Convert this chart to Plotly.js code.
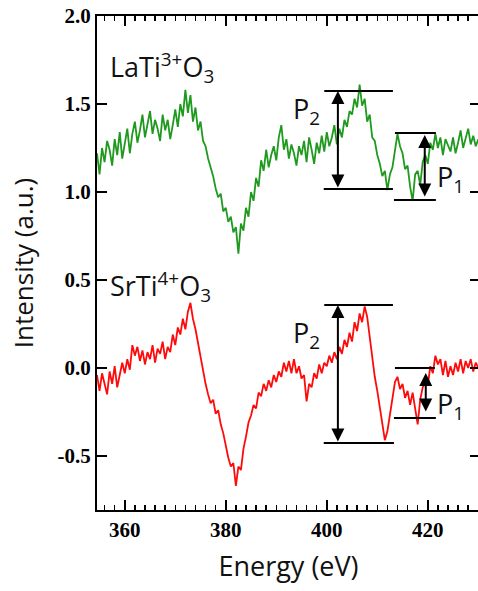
<!DOCTYPE html>
<html>
<head>
<meta charset="utf-8">
<script src="https://cdn.plot.ly/plotly-3.0.1.min.js"></script>
<style>
html,body{margin:0;padding:0;background:#fff;overflow:hidden;}
#chart{width:482px;height:591px;}
</style>
</head>
<body>
<div id="chart"></div>
<script>
// Photon energy (eV)
const energy = [
354.5,355.0,355.5,356.0,356.5,357.0,357.5,358.0,358.5,359.0,359.5,
360.0,360.5,361.0,361.5,362.0,362.5,363.0,363.5,364.0,364.5,
365.0,365.5,366.0,366.5,367.0,367.5,368.0,368.5,369.0,369.5,
370.0,370.5,371.0,371.5,372.0,372.5,373.0,373.5,374.0,374.5,
375.0,375.5,376.0,376.5,377.0,377.5,378.0,378.5,379.0,379.5,
380.0,380.5,381.0,381.5,382.0,382.5,383.0,383.5,384.0,384.5,
385.0,385.5,386.0,386.5,387.0,387.5,388.0,388.5,389.0,389.5,
390.0,390.5,391.0,391.5,392.0,392.5,393.0,393.5,394.0,394.5,
395.0,395.5,396.0,396.5,397.0,397.5,398.0,398.5,399.0,399.5,
400.0,400.5,401.0,401.5,402.0,402.5,403.0,403.5,404.0,404.5,
405.0,405.5,406.0,406.5,407.0,407.5,408.0,408.5,409.0,409.5,
410.0,410.5,411.0,411.5,412.0,412.5,413.0,413.5,414.0,414.5,
415.0,415.5,416.0,416.5,417.0,417.5,418.0,418.5,419.0,419.5,
420.0,420.5,421.0,421.5,422.0,422.5,423.0,423.5,424.0,424.5,
425.0,425.5,426.0,426.5,427.0,427.5,428.0,428.5,429.0,429.5,
430.0];

// LaTi3+O3 spectrum (green)
const laTiO3 = [
1.22,1.10,1.25,1.17,1.29,1.24,1.15,1.30,1.21,1.34,1.19,
1.27,1.36,1.22,1.33,1.40,1.28,1.35,1.44,1.31,1.39,
1.46,1.33,1.41,1.36,1.29,1.44,1.35,1.41,1.30,1.38,
1.47,1.37,1.50,1.43,1.58,1.45,1.55,1.40,1.48,1.35,
1.40,1.29,1.26,1.19,1.14,1.09,1.02,0.97,0.99,0.89,
0.91,0.83,0.86,0.77,0.80,0.65,0.82,0.78,0.91,0.86,
1.00,0.95,1.08,1.03,1.18,1.12,1.24,1.14,1.21,1.26,
1.18,1.31,1.38,1.24,1.30,1.19,1.27,1.22,1.15,1.26,
1.21,1.29,1.17,1.31,1.24,1.16,1.28,1.22,1.32,1.23,
1.34,1.26,1.31,1.38,1.27,1.36,1.31,1.41,1.37,1.46,
1.44,1.53,1.48,1.61,1.49,1.53,1.40,1.44,1.31,1.29,
1.21,1.16,1.09,1.12,1.01,1.10,1.14,1.23,1.33,1.26,
1.22,1.13,1.15,1.03,0.95,1.10,1.12,1.04,1.17,1.21,
1.16,1.28,1.24,1.33,1.25,1.31,1.21,1.30,1.27,1.23,
1.31,1.22,1.28,1.35,1.25,1.31,1.36,1.27,1.32,1.26,
1.30];

// SrTi4+O3 spectrum (red)
const srTiO3 = [
-0.04,-0.13,-0.03,-0.10,-0.15,-0.02,-0.09,0.01,-0.11,-0.04,0.03,
-0.03,0.05,-0.01,0.13,0.07,0.12,0.04,0.10,0.02,0.09,
0.05,0.13,0.03,0.11,0.08,0.15,0.05,0.12,0.09,0.19,
0.13,0.23,0.19,0.28,0.22,0.32,0.37,0.28,0.22,0.14,
0.07,-0.03,-0.09,-0.15,-0.20,-0.18,-0.26,-0.24,-0.32,-0.37,
-0.45,-0.51,-0.56,-0.54,-0.67,-0.56,-0.58,-0.46,-0.39,-0.31,
-0.27,-0.21,-0.23,-0.14,-0.16,-0.09,-0.13,-0.07,-0.11,-0.04,
-0.08,-0.02,-0.05,0.03,-0.02,0.04,-0.03,0.05,-0.03,0.01,
-0.06,-0.04,-0.19,-0.09,-0.11,-0.03,-0.06,0.02,-0.03,0.03,
0.01,0.07,0.03,0.09,0.05,0.12,0.08,0.16,0.12,0.20,
0.15,0.26,0.21,0.31,0.26,0.35,0.29,0.17,0.06,-0.05,
-0.13,-0.22,-0.30,-0.41,-0.36,-0.26,-0.18,-0.08,-0.05,-0.12,
-0.09,-0.17,-0.13,-0.21,-0.14,-0.23,-0.32,-0.18,-0.11,-0.08,
-0.10,0.01,-0.03,0.07,0.02,0.05,-0.04,0.04,-0.05,0.01,
-0.04,0.03,-0.02,0.05,-0.03,0.04,0.00,0.05,-0.02,0.03,
0.00];

// Axis ticks
const xTickStart = 360, xTickStep = 20, xMinorStep = 2;
const yTickVals = [-0.5, 0.0, 0.5, 1.0, 1.5, 2.0];
const yTickText = ['-0.5', '0.0', '0.5', '1.0', '1.5', '2.0'];

// Peak-height markers: [top level, bottom level]
const laP2 = [1.574, 1.017];
const laP1 = [1.335, 0.955];
const srP2 = [0.358, -0.426];
const srP1 = [0.0, -0.284];

const shapes = [];
function hline(y, x0, x1) {
  shapes.push({type: 'line', xref: 'x', yref: 'y', x0: x0, x1: x1, y0: y, y1: y,
    line: {color: '#000', width: 2}});
}
hline(laP2[0], 399.5, 413.1); hline(laP2[1], 399.4, 413.1);
hline(laP1[0], 413.5, 421.6); hline(laP1[1], 413.3, 421.6);
hline(srP2[0], 399.5, 413.1); hline(srP2[1], 399.4, 413.3);
hline(srP1[0], 413.5, 421.4); hline(srP1[1], 413.3, 421.6);

const annotations = [];
function darrow(x, yTop, yBot) {
  annotations.push({x: x, y: yTop, ax: x, ay: yBot, xref: 'x', yref: 'y', axref: 'x', ayref: 'y',
    text: '', showarrow: true, arrowhead: 2, startarrowhead: 2, arrowside: 'end+start',
    arrowsize: 1.3, startarrowsize: 1.3, arrowwidth: 2, arrowcolor: '#000', standoff: 0, startstandoff: 0});
}
darrow(402.2, laP2[0], laP2[1]);
darrow(419.4, laP1[0] - 0.011, laP1[1] + 0.011);
darrow(402.2, srP2[0], srP2[1]);
darrow(419.6, srP1[0] - 0.028, srP1[1] + 0.028);

const labelFont = {family: 'Open Sans, Noto Sans, sans-serif', size: 27, color: '#111'};
function label(text, x, y, xanchor) {
  annotations.push({x: x, y: y, xref: 'x', yref: 'y', text: text, showarrow: false,
    xanchor: xanchor || 'center', yanchor: 'middle', font: labelFont});
}
label('P<sub>2</sub>', 396.0, 1.462);
label('P<sub>1</sub>', 424.4, 1.075);
label('P<sub>2</sub>', 396.0, 0.19);
label('P<sub>1</sub>', 424.4, -0.215);

const nameFont = {family: 'Open Sans, Noto Sans, sans-serif', size: 27, color: '#111'};
annotations.push({x: 356.6, y: 1.705, xref: 'x', yref: 'y', text: 'LaTi<sup>3+</sup>O<sub>3</sub>',
  showarrow: false, xanchor: 'left', yanchor: 'middle', font: nameFont});
annotations.push({x: 356.6, y: 0.465, xref: 'x', yref: 'y', text: 'SrTi<sup>4+</sup>O<sub>3</sub>',
  showarrow: false, xanchor: 'left', yanchor: 'middle', font: nameFont});

const traces = [
  {x: energy, y: laTiO3, type: 'scatter', mode: 'lines', line: {color: '#1f9a1f', width: 1.8}},
  {x: energy, y: srTiO3, type: 'scatter', mode: 'lines', line: {color: '#ff0a0a', width: 1.8}}
];

const tickFont = {family: 'Liberation Serif', size: 21, color: '#000', weight: 'bold'};
const titleFont = {family: 'Open Sans, Noto Sans, sans-serif', size: 27, color: '#111'};

const layout = {
  width: 482, height: 591,
  margin: {l: 97, r: 2, t: 16, b: 81},
  paper_bgcolor: '#fff', plot_bgcolor: '#fff',
  showlegend: false,
  xaxis: {
    range: [354.5, 430.34], showgrid: false, zeroline: false,
    showline: true, linecolor: '#000', linewidth: 2, mirror: 'ticks',
    ticks: 'inside', ticklen: 10, tickwidth: 2, tickcolor: '#000',
    tickmode: 'linear', tick0: xTickStart, dtick: xTickStep, tickfont: tickFont,
    tickprefix: '<b>', ticksuffix: '</b>',
    minor: {dtick: xMinorStep, tick0: xTickStart, ticks: 'inside', ticklen: 5, tickwidth: 1.5, tickcolor: '#000', showgrid: false},
    title: {text: 'Energy (eV)', font: titleFont, standoff: 16}
  },
  yaxis: {
    range: [-0.807, 2.0], showgrid: false, zeroline: false,
    showline: true, linecolor: '#000', linewidth: 2, mirror: 'ticks',
    ticks: 'inside', ticklen: 10, tickwidth: 2, tickcolor: '#000',
    tickmode: 'array', tickvals: yTickVals, ticktext: yTickText, tickfont: tickFont,
    tickprefix: '<b>', ticksuffix: '</b>',
    title: {text: 'Intensity (a.u.)', font: {family: 'Open Sans, Noto Sans, sans-serif', size: 26, color: '#111'}, standoff: 16}
  },
  shapes: shapes,
  annotations: annotations
};

Plotly.newPlot('chart', traces, layout, {staticPlot: true, displayModeBar: false});
</script>
</body>
</html>
